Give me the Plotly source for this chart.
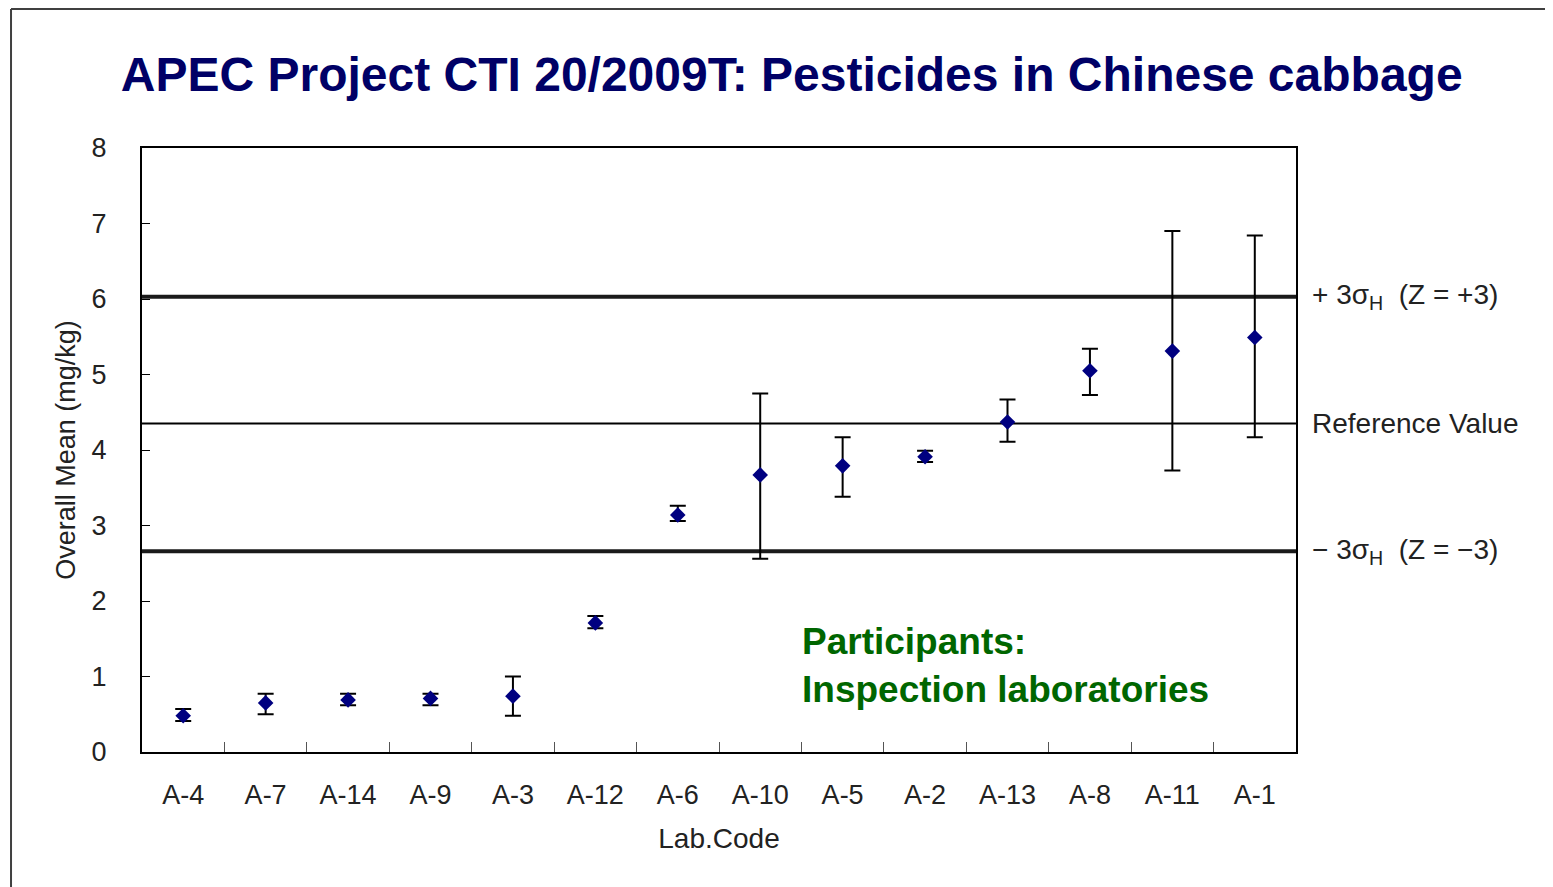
import plotly.graph_objects as go

labs = ["A-4", "A-7", "A-14", "A-9", "A-3", "A-12", "A-6", "A-10", "A-5", "A-2", "A-13", "A-8", "A-11", "A-1"]
means = [0.48, 0.65, 0.69, 0.71, 0.74, 1.71, 3.14, 3.67, 3.79, 3.91, 4.37, 5.05, 5.31, 5.49]
upper = [0.57, 0.77, 0.77, 0.77, 1.00, 1.80, 3.26, 4.75, 4.17, 3.99, 4.67, 5.34, 6.90, 6.84]
lower = [0.41, 0.50, 0.62, 0.62, 0.48, 1.64, 3.06, 2.56, 3.38, 3.84, 4.11, 4.73, 3.73, 4.17]

ref_value = 4.35
plus3 = 6.03
minus3 = 2.66

err_plus = [u - m for u, m in zip(upper, means)]
err_minus = [m - l for m, l in zip(means, lower)]

FONT = "Liberation Sans"

fig = go.Figure()
fig.add_trace(go.Scatter(
    x=labs, y=means, mode="markers",
    marker=dict(symbol="diamond", size=12, color="#000080", line=dict(width=0)),
    error_y=dict(type="data", symmetric=False, array=err_plus, arrayminus=err_minus,
                 color="black", thickness=2, width=8),
    showlegend=False, cliponaxis=False,
))

for yv, w, c in [(plus3, 4, "#1a1a1a"), (minus3, 4, "#1a1a1a"), (ref_value, 2, "black")]:
    fig.add_shape(type="line", xref="paper", yref="y", x0=0, x1=1, y0=yv, y1=yv,
                  line=dict(color=c, width=w), layer="below")

side = [(plus3, "+ 3σ<sub>H</sub>  (Z = +3)"), (ref_value, "Reference Value"), (minus3, "− 3σ<sub>H</sub>  (Z = −3)")]
for yv, t in side:
    fig.add_annotation(x=1, xref="paper", y=yv, yref="y", text=t, showarrow=False,
                       xanchor="left", yanchor="middle", xshift=14,
                       font=dict(family=FONT, size=28, color="#222222"))

fig.add_annotation(x=0.570, xref="paper", y=0.22, yref="paper", yanchor="top", xanchor="left",
                   text="<b>Participants:<br>Inspection laboratories</b>", align="left",
                   showarrow=False, font=dict(family=FONT, size=37, color="#006600"))

# slide border
fig.add_shape(type="line", xref="paper", yref="paper", x0=-0.1135, x1=-0.1135, y0=1.230, y1=-0.25,
              line=dict(color="#404040", width=2))
fig.add_shape(type="line", xref="paper", yref="paper", x0=-0.1135, x1=1.3, y0=1.230, y1=1.230,
              line=dict(color="#404040", width=2))

fig.update_layout(
    width=1545, height=879,
    margin=dict(l=134, r=257, t=140, b=135),
    paper_bgcolor="white", plot_bgcolor="white",
    title=dict(text="<b>APEC Project CTI 20/2009T: Pesticides in Chinese cabbage</b>",
               x=0.563, xref="paper", xanchor="center", y=0.925, yanchor="middle",
               font=dict(family=FONT, size=48, color="#000066")),
    xaxis=dict(type="category", range=[-0.5, 13.5], tickson="boundaries", ticks="inside", ticklen=10,
               tickcolor="#555555", showline=True, linecolor="black", linewidth=2, mirror=True,
               showgrid=False, ticklabelstandoff=18, tickfont=dict(family=FONT, size=27, color="#222222"),
               title=dict(text="Lab.Code", font=dict(family=FONT, size=28, color="#222222"), standoff=19)),
    yaxis=dict(range=[0, 8], dtick=1, ticks="inside", ticklen=8, tickcolor="black",
               showline=True, linecolor="black", linewidth=2, mirror=True, showgrid=False,
               zeroline=False, ticklabelstandoff=28, tickfont=dict(family=FONT, size=27, color="#222222"),
               title=dict(text="Overall Mean (mg/kg)", font=dict(family=FONT, size=27, color="#222222"), standoff=8)),
)

fig.write_html("out.html")
